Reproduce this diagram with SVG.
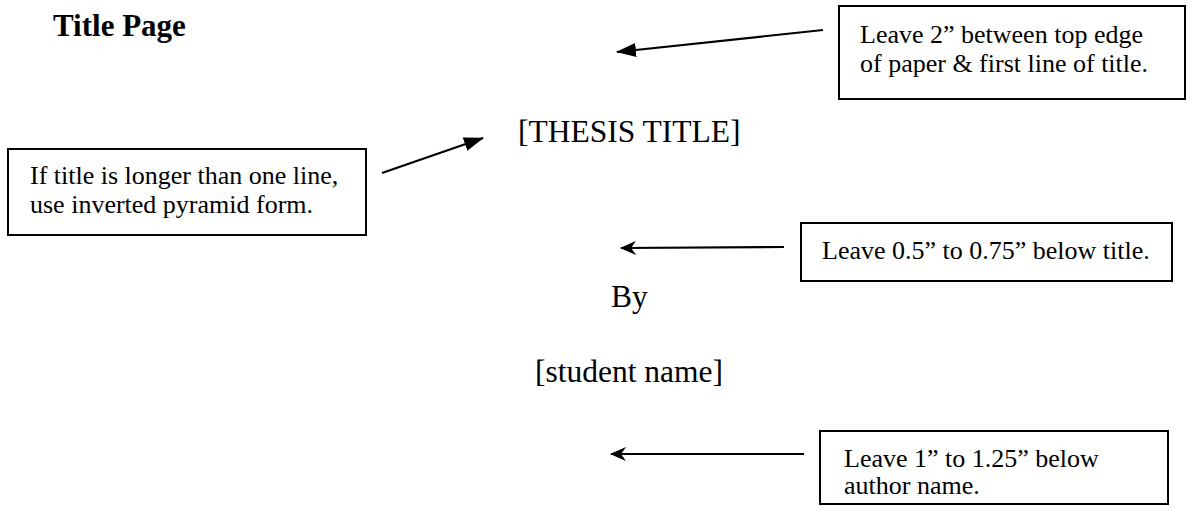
<svg xmlns="http://www.w3.org/2000/svg" width="1193" height="510" viewBox="0 0 1193 510">
  <style>
    text { font-family: "Liberation Serif", "Times New Roman", serif; fill: #000; }
    .head { font-size: 31px; font-weight: bold; }
    .main { font-size: 31.5px; }
    .note { font-size: 26px; }
    .box { fill: #fff; stroke: #000; stroke-width: 2; }
    .conn { stroke: #000; stroke-width: 2.2; fill: none; }
  </style>
  <defs>
    <marker id="tri" markerUnits="userSpaceOnUse" markerWidth="20" markerHeight="14" refX="19" refY="7" orient="auto">
      <path d="M0,0 L20,7 L0,14 z" fill="#000"/>
    </marker>
    <marker id="stealth" markerUnits="userSpaceOnUse" markerWidth="16" markerHeight="14" refX="15" refY="7" orient="auto">
      <path d="M0,0 L16,7 L0,14 L5,7 z" fill="#000"/>
    </marker>
  </defs>
  <rect width="1193" height="510" fill="#fff"/>

  <g id="heading">
    <text class="head" x="53" y="36">Title Page</text>
  </g>
  <g id="thesis-title">
    <text class="main" x="518" y="142">[THESIS TITLE]</text>
  </g>
  <g id="by">
    <text class="main" x="611" y="307">By</text>
  </g>
  <g id="student-name">
    <text class="main" x="535" y="382">[student name]</text>
  </g>

  <g id="note-top">
    <rect class="box" x="839" y="6" width="346" height="93"/>
    <text class="note" x="860" y="43">Leave 2” between top edge</text>
    <text class="note" x="860" y="72">of paper &amp; first line of title.</text>
  </g>
  <g id="note-pyramid">
    <rect class="box" x="8" y="149" width="358" height="86"/>
    <text class="note" x="30" y="184">If title is longer than one line,</text>
    <text class="note" x="30" y="213">use inverted pyramid form.</text>
  </g>
  <g id="note-below-title">
    <rect class="box" x="801" y="223" width="371" height="58"/>
    <text class="note" x="822" y="259">Leave 0.5” to 0.75” below title.</text>
  </g>
  <g id="note-below-author">
    <rect class="box" x="820" y="431" width="348" height="73"/>
    <text class="note" x="844" y="467">Leave 1” to 1.25” below</text>
    <text class="note" x="844" y="494">author name.</text>
  </g>

  <g id="connectors">
    <line class="conn" x1="823" y1="30" x2="617" y2="52" marker-end="url(#tri)"/>
    <line class="conn" x1="382" y1="173" x2="483" y2="138" marker-end="url(#tri)"/>
    <line class="conn" x1="784" y1="247" x2="621" y2="248" marker-end="url(#stealth)"/>
    <line class="conn" x1="804" y1="454" x2="611" y2="454" marker-end="url(#stealth)"/>
  </g>
</svg>
